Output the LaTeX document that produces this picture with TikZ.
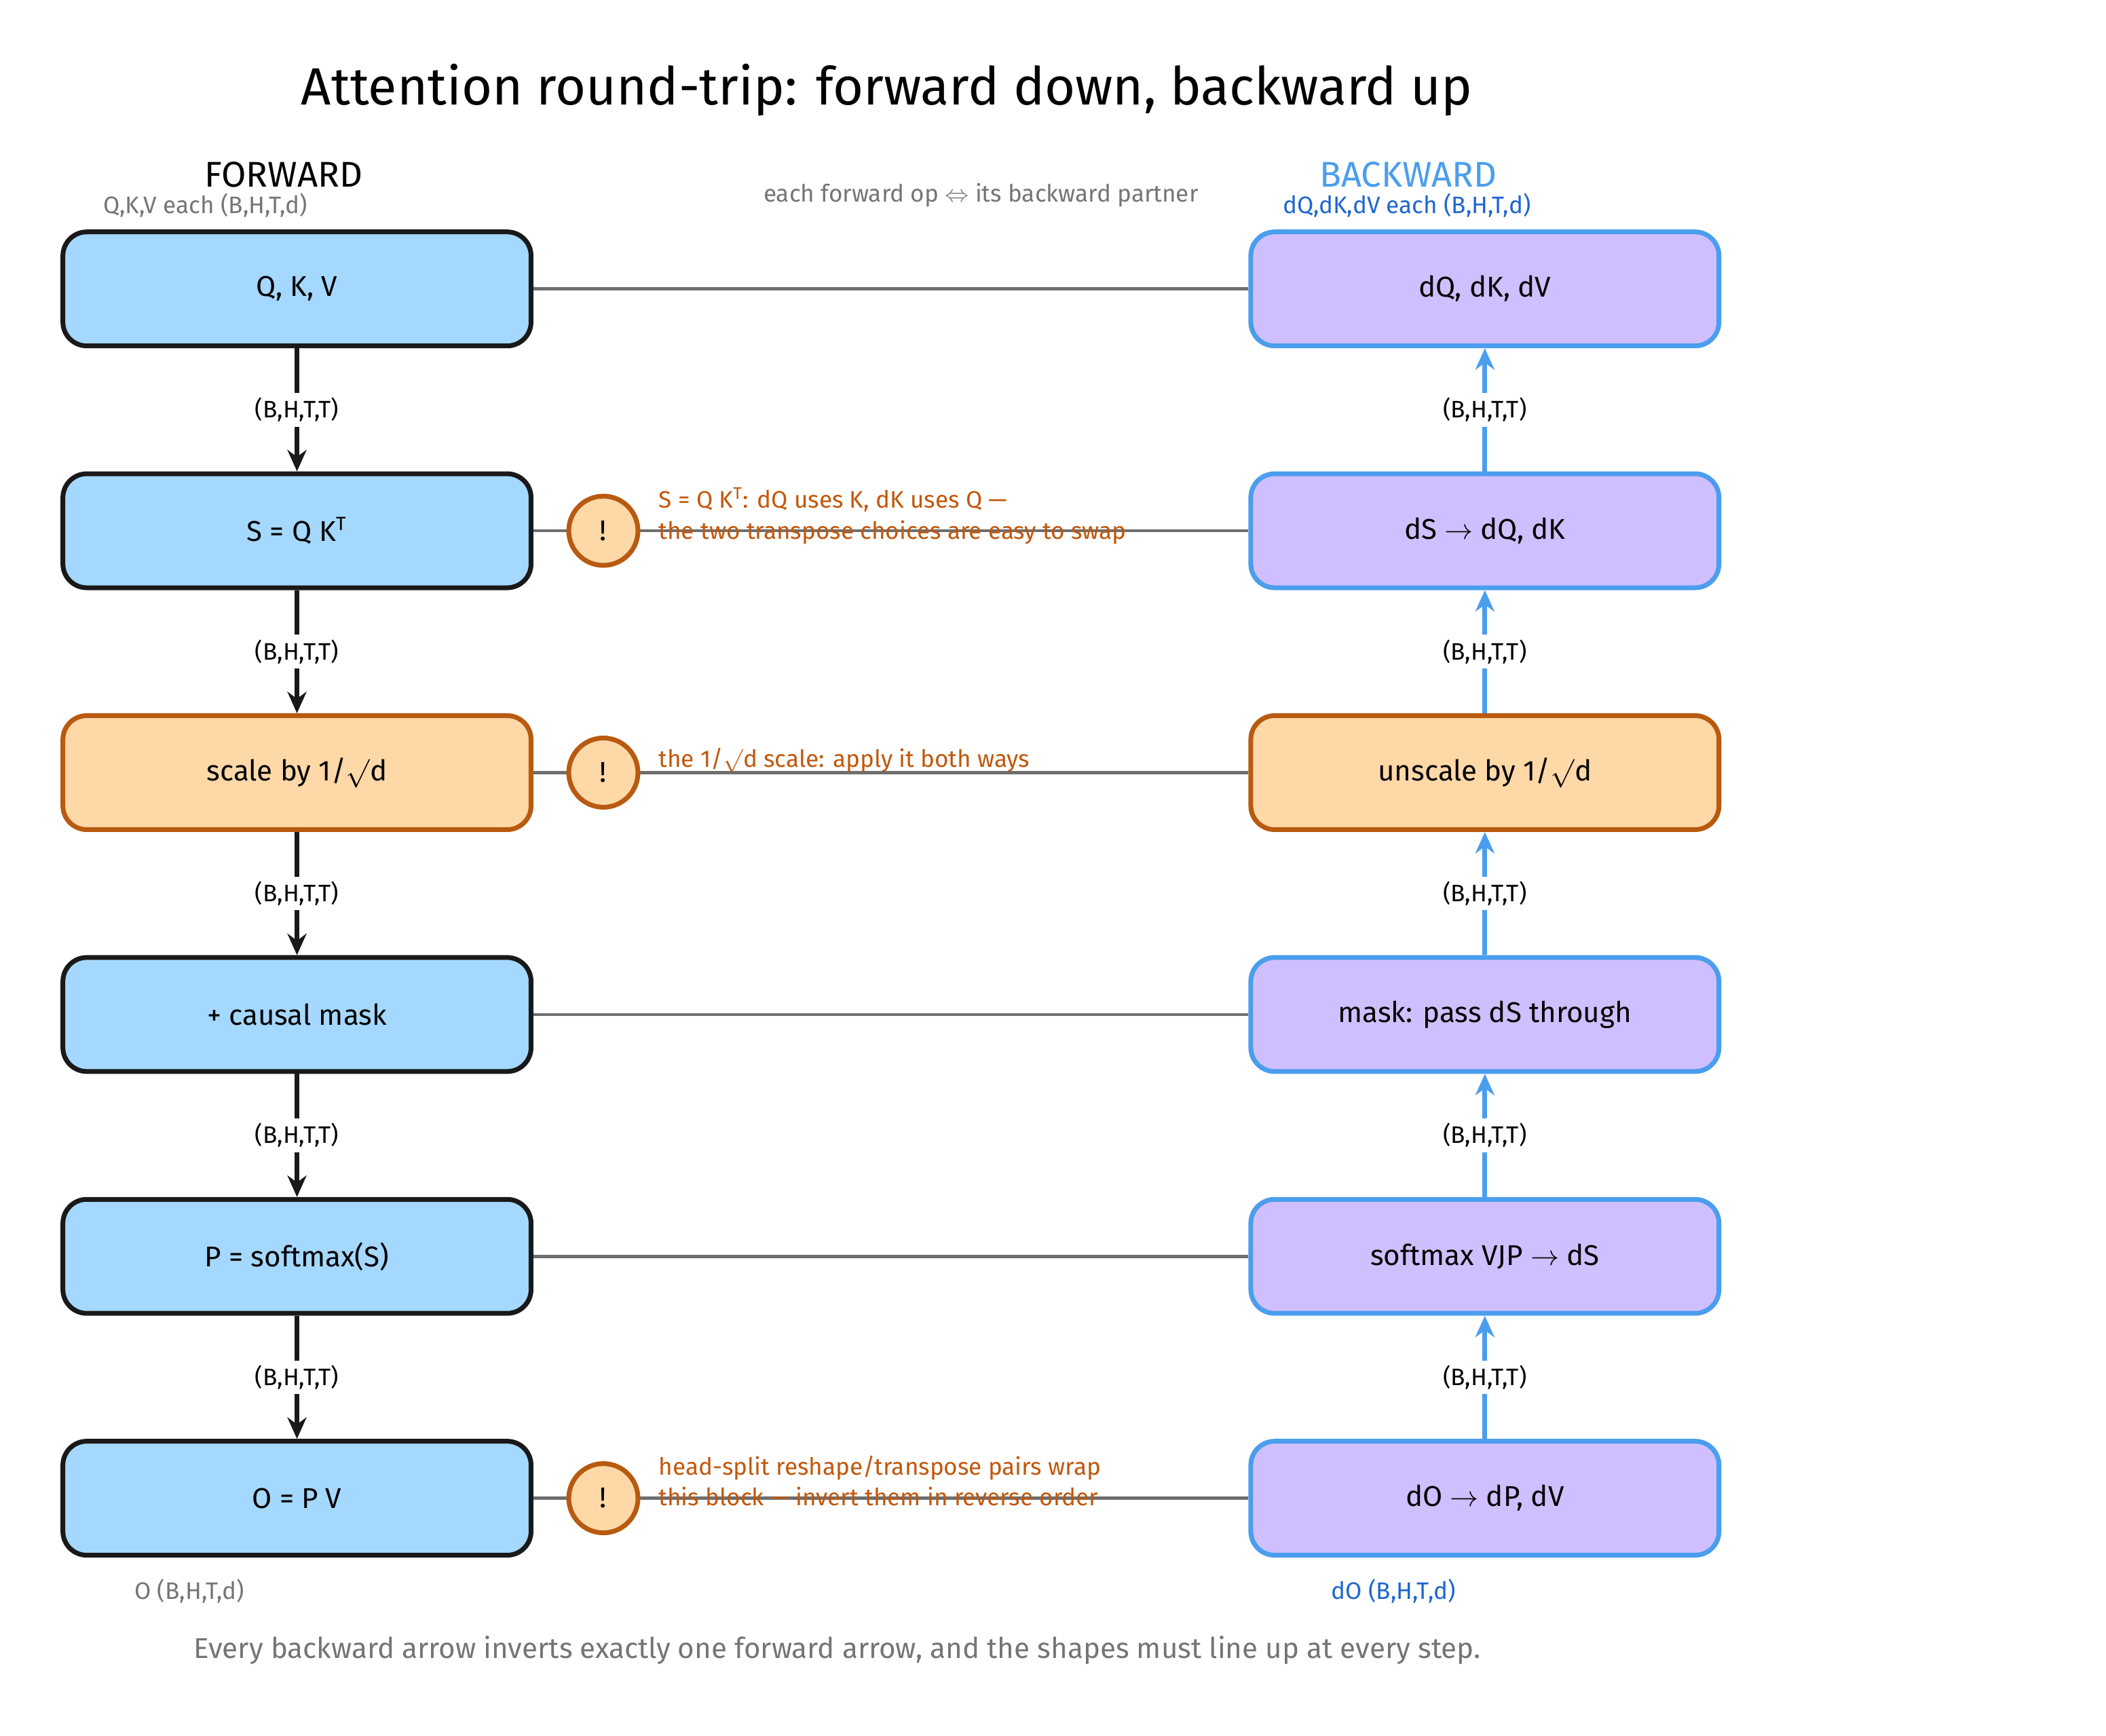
\documentclass[tikz,border=0pt]{standalone}
\usepackage{fontspec}
\setmainfont{Fira Sans}
\usetikzlibrary{arrows.meta}
\definecolor{FwdFill}{HTML}{A5D8FF}
\definecolor{BwdFill}{HTML}{D0BFFF}
\definecolor{BwdLine}{HTML}{4A9EED}
\definecolor{WarnFill}{HTML}{FFD8A8}
\definecolor{WarnLine}{HTML}{B85A10}
\definecolor{WarnText}{HTML}{C2570C}
\definecolor{NoteGray}{HTML}{757575}
\definecolor{LinkGray}{HTML}{6E6E6E}
\definecolor{BwdText}{HTML}{1E66D0}
\tikzset{
  fwd/.style={draw=black!90, line width=2pt, fill=FwdFill, rounded corners=10pt,
    minimum width=6.9cm, minimum height=1.68cm, font=\fontsize{12}{14}\selectfont},
  bwd/.style={fwd, draw=BwdLine, fill=BwdFill},
  warnbox/.style={fwd, draw=WarnLine, fill=WarnFill},
  warn/.style={circle, draw=WarnLine, line width=2pt, fill=WarnFill, minimum size=1.02cm,
    inner sep=0pt, font=\fontsize{12}{14}\selectfont},
  dims/.style={fill=white, text=black, inner sep=2pt, font=\fontsize{10}{12}\selectfont},
  fdown/.style={line width=2pt, black!90, -{Stealth[length=9pt,width=8pt]}},
  bup/.style={line width=2pt, BwdLine, -{Stealth[length=9pt,width=8pt]}},
  link/.style={line width=1.3pt, LinkGray},
  note/.style={font=\fontsize{10}{13}\selectfont, text=WarnText, anchor=west, align=left},
  small/.style={font=\fontsize{10}{12}\selectfont, text=NoteGray}
}
\begin{document}
\begin{tikzpicture}[x=0.0198cm, y=-0.0198cm]
\useasboundingbox (0,0) rectangle (31.04cm,-25.58cm);
% Titles
\node[font=\fontsize{22}{26}\selectfont] (title) at (660,67) {Attention round-trip: forward down, backward up};
\node[font=\fontsize{15}{18}\selectfont] (fwdhead) at (211,130) {FORWARD};
\node[font=\fontsize{15}{18}\selectfont, text=BwdLine] (bwdhead) at (1048,130) {BACKWARD};
\node[small] (qkvin) at (153,153) {Q,K,V each (B,H,T,d)};
\node[small, text=BwdText] (dqkvin) at (1047,153) {dQ,dK,dV each (B,H,T,d)};
\node[small] (pairing) at (730,145) {each forward op $\Leftrightarrow$ its backward partner};

% Forward column
\node[fwd] (qkv) at (221,215) {Q, K, V};
\node[fwd] (scores) at (221,395) {S = Q K\textsuperscript{T}};
\node[warnbox] (scale) at (221,575) {scale by 1/$\surd$d};
\node[fwd] (mask) at (221,755) {+ causal mask};
\node[fwd] (soft) at (221,935) {P = softmax(S)};
\node[fwd] (out) at (221,1115) {O = P V};

% Backward column
\node[bwd] (dqkv) at (1105,215) {dQ, dK, dV};
\node[bwd] (dscores) at (1105,395) {dS $\rightarrow$ dQ, dK};
\node[warnbox] (unscale) at (1105,575) {unscale by 1/$\surd$d};
\node[bwd] (dmask) at (1105,755) {mask: pass dS through};
\node[bwd] (dsoft) at (1105,935) {softmax VJP $\rightarrow$ dS};
\node[bwd] (dout) at (1105,1115) {dO $\rightarrow$ dP, dV};

% Pair links
\foreach \a/\b in {qkv/dqkv, scores/dscores, scale/unscale, mask/dmask, soft/dsoft, out/dout}
  \draw[link] (\a.east) -- (\b.west);

% Flow arrows with shapes
\foreach \a/\b in {qkv/scores, scores/scale, scale/mask, mask/soft, soft/out}
  \draw[fdown] (\a) -- node[dims] {(B,H,T,T)} (\b);
\foreach \a/\b in {dout/dsoft, dsoft/dmask, dmask/unscale, unscale/dscores, dscores/dqkv}
  \draw[bup] (\a) -- node[dims] {(B,H,T,T)} (\b);

% Warnings
\node[warn] (warnS) at (449,395) {!};
\node[warn] (warnScale) at (449,575) {!};
\node[warn] (warnHead) at (449,1115) {!};
\node[note] (noteS) at (484,384) {S = Q K\textsuperscript{T}: dQ uses K, dK uses Q ---\\the two transpose choices are easy to swap};
\node[note] (noteScale) at (484,566) {the 1/$\surd$d scale: apply it both ways};
\node[note] (noteHead) at (484,1102) {head-split reshape/transpose pairs wrap\\this block --- invert them in reverse order};

% Outputs and footer
\node[small] (oshape) at (141,1184) {O (B,H,T,d)};
\node[small, text=BwdText] (doshape) at (1037,1184) {dO (B,H,T,d)};
\node[font=\fontsize{12}{14}\selectfont, text=NoteGray] (footer) at (623,1228) {Every backward arrow inverts exactly one forward arrow, and the shapes must line up at every step.};
\end{tikzpicture}
\end{document}
